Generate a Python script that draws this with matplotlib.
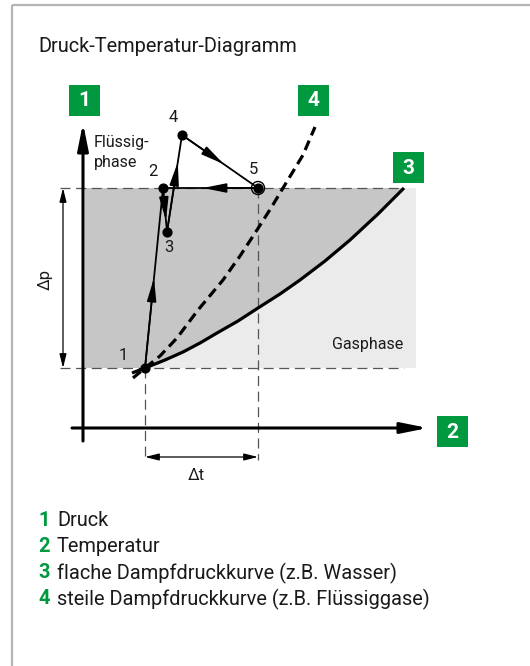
import matplotlib
matplotlib.use("Agg")
import matplotlib.pyplot as plt
from matplotlib.patches import Rectangle, Polygon, Circle
import numpy as np

plt.rcParams['font.family'] = ['Roboto', 'DejaVu Sans']

GREEN = '#00993f'
DARK = '#c6c6c6'
LIGHT = '#ebebeb'
DASHC = '#555555'

# ---- data (diagram coordinates) ----
title = "Druck-Temperatur-Diagramm"
legend_nums = ["1", "2", "3", "4"]
legend_texts = ["Druck", "Temperatur", "flache Dampfdruckkurve (z.B. Wasser)",
                "steile Dampfdruckkurve (z.B. Flüssiggase)"]

# flat vapour-pressure curve (3)
curve3_x = [132, 145, 165, 183, 200, 217, 238, 258, 280, 300, 325, 350, 378, 404]
curve3_y = [373, 368, 360, 352, 343, 333, 321, 308, 294, 280, 261, 240, 214, 188]
# steep vapour-pressure curve (4)
curve4_x = [133, 145, 160, 177, 198, 223, 240, 257, 271, 283, 303, 315]
curve4_y = [378, 368, 356, 338, 310, 280, 256, 230, 208, 188, 155, 127]

# process points 1..5
pt_names = ["1", "2", "3", "4", "5"]
pt_x = [145, 163, 167, 182, 258]
pt_y = [368, 188, 232, 135, 188]
lbl_x = [123, 153, 169, 173, 253]
lbl_y = [355, 171, 247, 117, 170]
# path order and arrow head fraction along each segment
path_seq = [(0, 1, 0.50), (1, 2, 0.74), (2, 3, 0.72), (3, 4, 0.55), (4, 1, 0.58)]

p_low, p_high = 368, 188
x_axis_y, y_axis_x = 428, 83

fig = plt.figure(figsize=(5.30, 6.66), dpi=100)
ax = fig.add_axes([0, 0, 1, 1])
ax.set_xlim(0, 530)
ax.set_ylim(666, 0)
ax.axis('off')

# frame
ax.plot([12, 530], [5, 5], color='#b4b4b4', lw=1.6, solid_capstyle='butt')
ax.plot([12, 12], [5, 666], color='#b4b4b4', lw=1.6, solid_capstyle='butt')

# title
ax.text(38, 46, title, fontsize=14.4, va='center', ha='left', color='#1a1a1a')

# shaded regions
ax.add_patch(Rectangle((85, p_high), 416 - 85, p_low - p_high, facecolor=LIGHT, edgecolor='none', zorder=1))
poly = [(85, p_high)] + [(x, y) for x, y in zip(curve3_x[::-1], curve3_y[::-1]) if y <= p_low] + [(85, p_low)]
ax.add_patch(Polygon(poly, closed=True, facecolor=DARK, edgecolor='none', zorder=1))

# thin dashed guide lines
dash_kw = dict(color=DASHC, lw=0.9, dashes=(8, 4.5), zorder=2)
ax.plot([60, 404], [p_high, p_high], **dash_kw)
ax.plot([60, 404], [p_low, p_low], **dash_kw)
ax.plot([pt_x[0], pt_x[0]], [p_low, 460], **dash_kw)
ax.plot([pt_x[4], pt_x[4]], [p_high, 460], **dash_kw)

# curves
ax.plot(curve3_x, curve3_y, color='black', lw=2.3, zorder=4, solid_capstyle='butt')
ax.plot(curve4_x, curve4_y, color='black', lw=2.3, dashes=(3.2, 1.8), zorder=4)

# axes arrows
axis_kw = dict(arrowstyle='-|>,head_length=0.8,head_width=0.16', lw=2.2,
               color='black', shrinkA=0, shrinkB=0, mutation_scale=20)
ax.annotate('', xy=(y_axis_x, 123), xytext=(y_axis_x, 441), arrowprops=axis_kw, zorder=5)
ax.annotate('', xy=(428, x_axis_y), xytext=(72, x_axis_y), arrowprops=axis_kw, zorder=5)

# dimension lines
dim_kw = dict(arrowstyle='<|-|>,head_length=0.6,head_width=0.15', lw=0.9, color='black',
              shrinkA=0, shrinkB=0, mutation_scale=14)
ax.annotate('', xy=(63, p_high), xytext=(63, p_low), arrowprops=dim_kw)
ax.annotate('', xy=(pt_x[0], 457), xytext=(pt_x[4], 457), arrowprops=dim_kw)
ax.text(45, 280, 'Δp', fontsize=12, rotation=90, ha='center', va='center', color='#1a1a1a')
ax.text(196, 476, 'Δt', fontsize=12, ha='center', va='center', color='#1a1a1a')

# process path
for a, b, f in path_seq:
    x0, y0, x1, y1 = pt_x[a], pt_y[a], pt_x[b], pt_y[b]
    ax.plot([x0, x1], [y0, y1], color='black', lw=1.3, zorder=6)
    ax.annotate('', xy=(x0 + f * (x1 - x0), y0 + f * (y1 - y0)), xytext=(x0, y0),
                arrowprops=dict(arrowstyle='-|>,head_length=1.0,head_width=0.2', lw=1.2,
                                color='black', shrinkA=0, shrinkB=0, mutation_scale=14), zorder=6)

ax.scatter(pt_x, pt_y, s=40, color='black', zorder=7)
ax.add_patch(Circle((pt_x[4], pt_y[4]), 6.5, facecolor='none', edgecolor='black', lw=1.0, zorder=7))
for n, x, y in zip(pt_names, lbl_x, lbl_y):
    ax.text(x, y, n, fontsize=12, ha='center', va='center', color='#1a1a1a')

ax.text(94, 142, 'Flüssig-', fontsize=11.5, ha='left', va='center', color='#1a1a1a')
ax.text(94, 162, 'phase', fontsize=11.5, ha='left', va='center', color='#1a1a1a')
ax.text(403, 345, 'Gasphase', fontsize=11.5, ha='right', va='center', color='#1a1a1a')

# green number boxes
boxes = [("1", 69, 85), ("4", 298, 85), ("3", 393, 152), ("2", 437, 416)]
for n, bx, by in boxes:
    ax.add_patch(Rectangle((bx, by), 31, 31, facecolor=GREEN, edgecolor='none', zorder=8))
    ax.text(bx + 15.5, by + 16, n, fontsize=15, fontweight='bold', color='white',
            ha='center', va='center', zorder=9)

# legend
leg_y = [520, 546, 573, 599]
for n, t, y in zip(legend_nums, legend_texts, leg_y):
    ax.text(38, y, n, fontsize=14.4, fontweight='bold', color=GREEN, ha='left', va='center')
    ax.text(57, y, t, fontsize=14.4, color='#1a1a1a', ha='left', va='center')

fig.savefig('out.png', dpi=100)
